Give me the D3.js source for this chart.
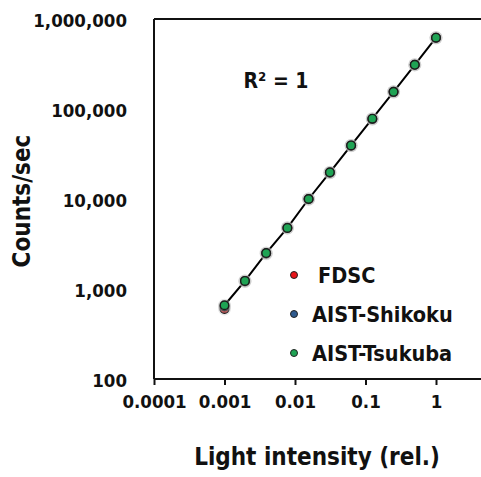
<!DOCTYPE html>
<html><head><meta charset="utf-8">
<script src="https://cdn.jsdelivr.net/npm/d3@7"></script>
<style>body{margin:0;background:#fff}svg{display:block}</style>
</head><body>
<svg id="c" width="481" height="477"></svg>
<script>
const intensity = [0.001, 0.00195, 0.0039, 0.0078, 0.0156, 0.03125, 0.0625, 0.125, 0.25, 0.5, 1];
const fdsc     = [600, 1215, 2460, 4760, 9950, 19600, 39100, 77200, 154000, 309000, 617000];
const shikoku  = [640, 1225, 2500, 4780, 10000, 19600, 39200, 77500, 155000, 310000, 618000];
const tsukuba  = [660, 1230, 2510, 4770, 10000, 19800, 39400, 78000, 155000, 310000, 620000];
const seriesNames = ["FDSC", "AIST-Shikoku", "AIST-Tsukuba"];
const seriesColors = ["#e8141a", "#2e5a8e", "#1fa354"];
const xTicks = [0.0001, 0.001, 0.01, 0.1, 1];
const xTickLabels = ["0.0001", "0.001", "0.01", "0.1", "1"];
const yTicks = [100, 1000, 10000, 100000, 1000000];
const yTickLabels = ["100", "1,000", "10,000", "100,000", "1,000,000"];
const fitLabel = "R² = 1";

const F = "'DejaVu Sans Condensed','DejaVu Sans',sans-serif";
const svg = d3.select("#c");
const x = d3.scaleLog().domain([1e-4, 1]).range([154, 436]);
const y = d3.scaleLog().domain([100, 1e6]).range([379, 19]);

// frame: top line + axes
svg.append("line").attr("x1", 154).attr("x2", 481).attr("y1", y(1e6)).attr("y2", y(1e6))
  .attr("stroke", "#111").attr("stroke-width", 2);
const xAxis = d3.axisBottom(x).tickValues(xTicks).tickFormat((d, i) => xTickLabels[i]).tickSize(6).tickPadding(10);
const gx = svg.append("g").attr("transform", `translate(0,${y(100)})`).call(xAxis);
gx.select(".domain").remove();
gx.append("line").attr("x1", 154).attr("x2", 481).attr("stroke", "#111").attr("stroke-width", 2);
gx.selectAll(".tick line").attr("stroke", "#111").attr("stroke-width", 2);
gx.selectAll(".tick text").attr("font-family", F).attr("font-weight", "bold").attr("font-size", 18.5).attr("fill", "#111");

const yAxis = d3.axisLeft(y).tickValues(yTicks).tickFormat((d, i) => yTickLabels[i]).tickSize(0).tickPadding(27);
const gy = svg.append("g").attr("transform", `translate(154,0)`).call(yAxis);
gy.select(".domain").remove();
gy.append("line").attr("y1", y(1e6)).attr("y2", y(100)).attr("stroke", "#111").attr("stroke-width", 2);
gy.selectAll(".tick text").attr("font-family", F).attr("font-weight", "bold").attr("font-size", 18.5).attr("fill", "#111").attr("dy", "0.42em");

// titles
svg.append("text").attr("x", 317).attr("y", 465).attr("text-anchor", "middle")
  .attr("font-family", F).attr("font-weight", "bold").attr("font-size", 24).attr("fill", "#111")
  .text("Light intensity (rel.)");
svg.append("text").attr("transform", "translate(30,201) rotate(-90)").attr("text-anchor", "middle")
  .attr("font-family", F).attr("font-weight", "bold").attr("font-size", 24).attr("fill", "#111")
  .text("Counts/sec");
svg.append("text").attr("x", 276).attr("y", 88).attr("text-anchor", "middle")
  .attr("font-family", F).attr("font-weight", "bold").attr("font-size", 21).attr("fill", "#111")
  .text(fitLabel);

// fit line
const line = d3.line().x(d => x(d[0])).y(d => y(d[1]));
svg.append("path").datum(intensity.map((v, i) => [v, tsukuba[i]]))
  .attr("d", line).attr("fill", "none").attr("stroke", "#000").attr("stroke-width", 2);

// markers
const all = [fdsc, shikoku, tsukuba];
all.forEach((vals, s) => {
  const g = svg.append("g");
  g.selectAll("circle.h").data(intensity).join("circle")
    .attr("cx", d => x(d)).attr("cy", (d, i) => y(vals[i])).attr("r", 6.5)
    .attr("fill", "#bbb").attr("opacity", 0.35);
  g.selectAll("circle.m").data(intensity).join("circle")
    .attr("cx", d => x(d)).attr("cy", (d, i) => y(vals[i])).attr("r", 4.3)
    .attr("fill", seriesColors[s]).attr("stroke", "#1a1a1a").attr("stroke-width", 1.4);
});

// legend
const legY = [275, 314, 353];
seriesNames.forEach((n, i) => {
  svg.append("circle").attr("cx", 294).attr("cy", legY[i]).attr("r", 3.5)
    .attr("fill", seriesColors[i]).attr("stroke", "#222").attr("stroke-width", 1);
  svg.append("text").attr("x", i === 0 ? 318 : 312).attr("y", legY[i] + 8)
    .attr("font-family", F).attr("font-weight", "bold").attr("font-size", 21.5).attr("fill", "#111")
    .text(n);
});
</script>
</body></html>
